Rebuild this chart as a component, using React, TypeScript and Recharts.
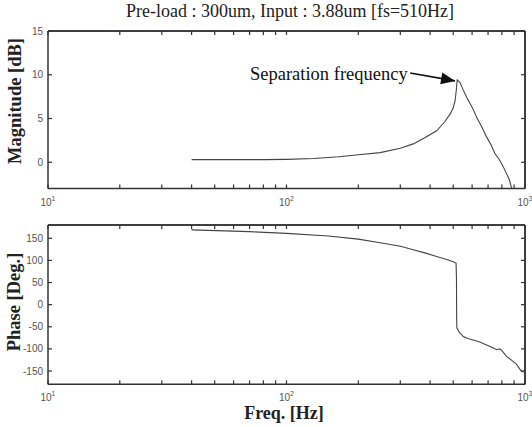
import React from 'react';
import {
  LineChart,
  Line,
  XAxis,
  YAxis,
  ReferenceLine,
  ReferenceDot
} from 'recharts';

// Magnitude response (Hz, dB)
const magFreq = [40, 60, 80, 100, 130, 166, 200, 247, 300, 340, 380, 426, 460, 485, 500, 509, 515, 518, 520, 534, 550, 570, 600, 627, 660, 690, 720, 748, 785, 810, 837, 860, 885];
const magDb = [0.3, 0.3, 0.3, 0.33, 0.42, 0.62, 0.85, 1.1, 1.6, 2.1, 2.8, 3.6, 4.6, 5.5, 6.2, 7.0, 8.2, 9.0, 9.4, 9.1, 8.3, 7.4, 6.3, 5.15, 4.0, 2.9, 2.0, 1.0, 0.2, -0.5, -1.3, -2.0, -3.3];

// Phase response (Hz, deg)
const phaseFreq = [40, 70, 100, 150, 200, 247, 300, 340, 380, 426, 470, 500, 514, 516, 517, 518, 530, 551, 580, 607, 650, 690, 730, 760, 785, 800, 837, 880, 922, 950, 968, 1000];
const phaseDeg = [169, 165, 161, 155, 148, 140, 132, 124, 117, 109, 102, 97, 94, 60, -30, -53, -62, -72, -77, -80, -85, -91, -97, -102, -100, -104, -117, -126, -135, -145, -151, -152];

const xTicks = [10, 20, 30, 40, 50, 60, 70, 80, 90, 100, 200, 300, 400, 500, 600, 700, 800, 900, 1000];
const decadeExp: { [k: number]: string } = { 10: '1', 100: '2', 1000: '3' };
const magTicks = [0, 5, 10, 15];
const phaseTicks = [-150, -100, -50, 0, 50, 100, 150];

// annotation arrow: from end of text to the peak
const arrowFrom = { x: 330, y: 10.2 };
const arrowTip = { x: 509, y: 9.3 };

const magData = magFreq.map((f, i) => ({ f, v: magDb[i] }));
const phaseData = phaseFreq.map((f, i) => ({ f, v: phaseDeg[i] }));

const LABEL_FONT = '"Liberation Sans", Arial, sans-serif';
const SERIF = '"Liberation Serif", "Times New Roman", serif';
const INK = '#333';
const FRAME = { stroke: INK, strokeWidth: 1.5 };

// small filled bars instead of stroked lines for frame and tick marks
const HBar = ({ x1, x2, y, w = 1.4 }: any) => (
  <rect x={Math.min(x1, x2)} y={y - w / 2} width={Math.abs(x2 - x1)} height={w} fill={INK} />
);
const VBar = ({ x, y1, y2, w = 1.4 }: any) => (
  <rect x={x - w / 2} y={Math.min(y1, y2)} width={w} height={Math.abs(y2 - y1)} fill={INK} />
);

const BottomTick = (props: any) => {
  const { x, y, payload } = props;
  const exp = decadeExp[payload.value];
  return (
    <g>
      <VBar x={x} y1={y} y2={y - 4} w={1.2} />
      {exp && (
        <text x={x} y={y + 17} textAnchor="middle" fontSize={10} fill="#555" fontFamily={LABEL_FONT}>
          <tspan>10</tspan>
          <tspan dy={-5} fontSize={7}>{exp}</tspan>
        </text>
      )}
    </g>
  );
};

const TopTick = (props: any) => {
  const { x, y } = props;
  return <VBar x={x} y1={y} y2={y + 4} w={1.2} />;
};

const LeftTick = (props: any) => {
  const { x, y, payload } = props;
  return (
    <g>
      <HBar x1={x} x2={x + 4} y={y} w={1.2} />
      <text x={x - 5} y={y} dy="0.35em" textAnchor="end" fontSize={10} fill="#555" fontFamily={LABEL_FONT}>
        {payload.value}
      </text>
    </g>
  );
};

const RightTick = (props: any) => {
  const { x, y } = props;
  return <HBar x1={x - 4} x2={x} y={y} w={1.2} />;
};

const ArrowHead = (props: any) => {
  const { cx, cy } = props;
  const dx = 0.985, dy = 0.175;
  const bx = cx - 14 * dx, by = cy - 14 * dy;
  const px = -dy * 6, py = dx * 6;
  return (
    <polygon
      points={`${cx},${cy} ${bx + px},${by + py} ${bx - px},${by - py}`}
      fill="#111"
    />
  );
};

// top/right edges of the box, drawn as a reference area outline on the data domain
const BoxEdge = (props: any) => {
  const { x, y, width, height } = props;
  return (
    <g>
      <HBar x1={x} x2={x + width} y={y} w={1.5} />
      <VBar x={x + width} y1={y} y2={y + height} w={1.5} />
    </g>
  );
};

const App = () => {
  return (
    <div style={{ position: 'absolute', left: 0, top: 0, width: 532, height: 427, background: '#fff' }}>
      <LineChart id="magnitude" width={532} height={210} data={magData} margin={{ top: 30, right: 6, left: 8, bottom: 1.5 }}>
        <XAxis dataKey="f" type="number" scale="log" domain={[10, 1000]} ticks={xTicks} interval={0}
          allowDataOverflow height={20} tickSize={0} tickMargin={0} tickLine={false} axisLine={FRAME} tick={<BottomTick />} />
        <XAxis xAxisId="t" dataKey="f" type="number" scale="log" domain={[10, 1000]} ticks={xTicks} interval={0}
          allowDataOverflow orientation="top" height={1} tickSize={0} tickMargin={0} tickLine={false} axisLine={FRAME} tick={<TopTick />} />
        <YAxis domain={[-3, 15]} ticks={magTicks} interval={0} allowDataOverflow width={40}
          tickSize={0} tickMargin={0} tickLine={false} axisLine={FRAME} tick={<LeftTick />} />
        <YAxis yAxisId="r" orientation="right" domain={[-3, 15]} ticks={magTicks} interval={0} allowDataOverflow width={1}
          tickSize={0} tickMargin={0} tickLine={false} axisLine={FRAME} tick={<RightTick />} />
        <ReferenceDot x={1000} y={15} r={0} shape={(p: any) => <BoxEdge x={48} y={p.cy} width={p.cx - 48} height={157.5} />} />
        <Line dataKey="v" type="linear" stroke="#444" strokeWidth={1.1} dot={false} isAnimationActive={false} />
        <ReferenceLine segment={[arrowFrom, arrowTip]} stroke="#111" strokeWidth={1.6} />
        <ReferenceDot x={arrowTip.x} y={arrowTip.y} r={0} shape={<ArrowHead />} />
      </LineChart>
      <LineChart id="phase" width={532} height={217} data={phaseData} margin={{ top: 14, right: 6, left: 8, bottom: 22.7 }}>
        <XAxis dataKey="f" type="number" scale="log" domain={[10, 1000]} ticks={xTicks} interval={0}
          allowDataOverflow height={20} tickSize={0} tickMargin={0} tickLine={false} axisLine={FRAME} tick={<BottomTick />} />
        <XAxis xAxisId="t" dataKey="f" type="number" scale="log" domain={[10, 1000]} ticks={xTicks} interval={0}
          allowDataOverflow orientation="top" height={1} tickSize={0} tickMargin={0} tickLine={false} axisLine={FRAME} tick={<TopTick />} />
        <YAxis domain={[-180, 180]} ticks={phaseTicks} interval={0} allowDataOverflow width={40}
          tickSize={0} tickMargin={0} tickLine={false} axisLine={FRAME} tick={<LeftTick />} />
        <YAxis yAxisId="r" orientation="right" domain={[-180, 180]} ticks={phaseTicks} interval={0} allowDataOverflow width={1}
          tickSize={0} tickMargin={0} tickLine={false} axisLine={FRAME} tick={<RightTick />} />
        <ReferenceDot x={1000} y={180} r={0} shape={(p: any) => <BoxEdge x={48} y={p.cy} width={p.cx - 48} height={159.3} />} />
        <Line dataKey="v" type="linear" stroke="#444" strokeWidth={1.1} dot={false} isAnimationActive={false} />
      </LineChart>
      <svg width={532} height={427} style={{ position: 'absolute', left: 0, top: 0, pointerEvents: 'none' }}>
        <text x={290} y={17} textAnchor="middle" fontSize={18} fontFamily={SERIF} fill="#222">
          Pre-load : 300um, Input : 3.88um [fs=510Hz]
        </text>
        <text x={250} y={80} fontSize={18.5} fontFamily={SERIF} fill="#111">Separation frequency</text>
        <text x={21} y={101} transform="rotate(-90 21 101)" textAnchor="middle" fontSize={18.5} fontWeight="bold" fontFamily={SERIF} fill="#222">
          Magnitude [dB]
        </text>
        <text x={20} y={302} transform="rotate(-90 20 302)" textAnchor="middle" fontSize={18.5} fontWeight="bold" fontFamily={SERIF} fill="#222">
          Phase [Deg.]
        </text>
        <text x={284} y={419} textAnchor="middle" fontSize={18} fontWeight="bold" fontFamily={SERIF} fill="#222">
          Freq. [Hz]
        </text>
      </svg>
    </div>
  );
};

export default App;
